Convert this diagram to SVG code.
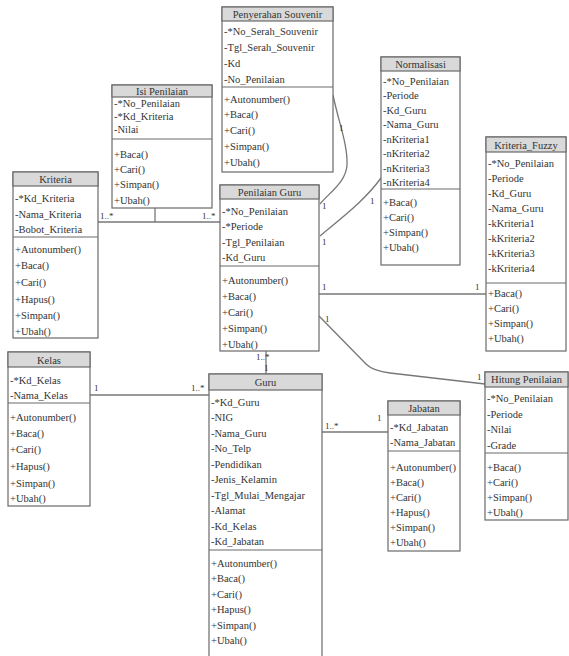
<svg xmlns="http://www.w3.org/2000/svg" width="569" height="656" viewBox="0 0 569 656">
<style>
.bg{fill:#fff}
.box{fill:#fff;stroke:#6a6a6a;stroke-width:1.2}
.hdr{fill:#d9d9d9;stroke:#6a6a6a;stroke-width:1.2}
.div{stroke:#6a6a6a;stroke-width:1.2}
.t{font-family:"Liberation Serif",serif;font-size:10.5px;fill:#333}
.h{text-anchor:middle}
.conn{fill:none;stroke:#777;stroke-width:1.3}
.lb{font-family:"Liberation Serif",serif;font-size:9px;fill:#333}
</style>
<rect class="bg" x="0" y="0" width="569" height="656"/>

<g id="connectors">
<path class="conn" d="M98,222 H220"/>
<path class="conn" d="M155,208 V222"/>
<path class="conn" d="M333,95 C338,120 348,145 347,165 C346,182 330,192 320,204"/>
<path class="conn" d="M381,178 C365,200 345,215 320,236"/>
<path class="conn" d="M319,294 H486"/>
<path class="conn" d="M319,316 L366,364 Q373,371 390,373 L485,384"/>
<path class="conn" d="M266,351 V374"/>
<path class="conn" d="M90,395 H209"/>
<path class="conn" d="M322,432 H388"/>
<text class="lb" x="100" y="219">1..*</text>
<text class="lb" x="202" y="219">1..*</text>
<text class="lb" x="339" y="131">1</text>
<text class="lb" x="322" y="209">1</text>
<text class="lb" x="370" y="204">1</text>
<text class="lb" x="322" y="245">1</text>
<text class="lb" x="322" y="290">1</text>
<text class="lb" x="475" y="290">1</text>
<text class="lb" x="325" y="322">1</text>
<text class="lb" x="477" y="380">1</text>
<text class="lb" x="256" y="360">1..*</text>
<text class="lb" x="264" y="371">1</text>
<text class="lb" x="94" y="391">1</text>
<text class="lb" x="191" y="391">1..*</text>
<text class="lb" x="325" y="429">1..*</text>
<text class="lb" x="377" y="421">1</text>
</g>

<g id="penyerahan-souvenir">
<rect class="box" x="222" y="7" width="111" height="165"/>
<rect class="hdr" x="222" y="7" width="111" height="14"/>
<line class="div" x1="222" y1="87" x2="333" y2="87"/>
<text class="t h" x="277.5" y="18">Penyerahan Souvenir</text>
<text class="t" x="224" y="35">-*No_Serah_Souvenir</text>
<text class="t" x="224" y="51">-Tgl_Serah_Souvenir</text>
<text class="t" x="224" y="67">-Kd</text>
<text class="t" x="224" y="83">-No_Penilaian</text>
<text class="t" x="224" y="103">+Autonumber()</text>
<text class="t" x="224" y="118">+Baca()</text>
<text class="t" x="224" y="134">+Cari()</text>
<text class="t" x="224" y="150">+Simpan()</text>
<text class="t" x="224" y="166">+Ubah()</text>
</g>

<g id="isi-penilaian">
<rect class="box" x="112" y="85" width="100" height="123"/>
<rect class="hdr" x="112" y="85" width="100" height="12"/>
<line class="div" x1="112" y1="139" x2="212" y2="139"/>
<text class="t h" x="162" y="94.5">Isi Penilaian</text>
<text class="t" x="114" y="107">-*No_Penilaian</text>
<text class="t" x="114" y="120">-*Kd_Kriteria</text>
<text class="t" x="114" y="133">-Nilai</text>
<text class="t" x="114" y="158">+Baca()</text>
<text class="t" x="114" y="173">+Cari()</text>
<text class="t" x="114" y="188">+Simpan()</text>
<text class="t" x="114" y="204">+Ubah()</text>
</g>

<g id="kriteria">
<rect class="box" x="13" y="172" width="85" height="166"/>
<rect class="hdr" x="13" y="172" width="85" height="14"/>
<line class="div" x1="13" y1="237" x2="98" y2="237"/>
<text class="t h" x="55.5" y="183">Kriteria</text>
<text class="t" x="15" y="202">-*Kd_Kriteria</text>
<text class="t" x="15" y="218">-Nama_Kriteria</text>
<text class="t" x="15" y="233">-Bobot_Kriteria</text>
<text class="t" x="15" y="253">+Autonumber()</text>
<text class="t" x="15" y="269">+Baca()</text>
<text class="t" x="15" y="286">+Cari()</text>
<text class="t" x="15" y="303">+Hapus()</text>
<text class="t" x="15" y="319">+Simpan()</text>
<text class="t" x="15" y="335">+Ubah()</text>
</g>

<g id="penilaian-guru">
<rect class="box" x="220" y="185" width="99" height="166"/>
<rect class="hdr" x="220" y="185" width="99" height="14"/>
<line class="div" x1="220" y1="266" x2="319" y2="266"/>
<text class="t h" x="269.5" y="196">Penilaian Guru</text>
<text class="t" x="222" y="215">-*No_Penilaian</text>
<text class="t" x="222" y="230">-*Periode</text>
<text class="t" x="222" y="246">-Tgl_Penilaian</text>
<text class="t" x="222" y="261">-Kd_Guru</text>
<text class="t" x="222" y="284">+Autonumber()</text>
<text class="t" x="222" y="300">+Baca()</text>
<text class="t" x="222" y="316">+Cari()</text>
<text class="t" x="222" y="332">+Simpan()</text>
<text class="t" x="222" y="348">+Ubah()</text>
</g>

<g id="normalisasi">
<rect class="box" x="381" y="57" width="79" height="208"/>
<rect class="hdr" x="381" y="57" width="79" height="14"/>
<line class="div" x1="381" y1="189" x2="460" y2="189"/>
<text class="t h" x="420.5" y="68">Normalisasi</text>
<text class="t" x="383" y="84.5">-*No_Penilaian</text>
<text class="t" x="383" y="99">-Periode</text>
<text class="t" x="383" y="113.5">-Kd_Guru</text>
<text class="t" x="383" y="128">-Nama_Guru</text>
<text class="t" x="383" y="142.5">-nKriteria1</text>
<text class="t" x="383" y="157">-nKriteria2</text>
<text class="t" x="383" y="171.5">-nKriteria3</text>
<text class="t" x="383" y="186">-nKriteria4</text>
<text class="t" x="383" y="206">+Baca()</text>
<text class="t" x="383" y="221">+Cari()</text>
<text class="t" x="383" y="236">+Simpan()</text>
<text class="t" x="383" y="251">+Ubah()</text>
</g>

<g id="kriteria-fuzzy">
<rect class="box" x="486" y="137" width="80" height="214"/>
<rect class="hdr" x="486" y="137" width="80" height="15"/>
<line class="div" x1="486" y1="283" x2="566" y2="283"/>
<text class="t h" x="526" y="148.5">Kriteria_Fuzzy</text>
<text class="t" x="488" y="166.5">-*No_Penilaian</text>
<text class="t" x="488" y="181.5">-Periode</text>
<text class="t" x="488" y="196.5">-Kd_Guru</text>
<text class="t" x="488" y="211.5">-Nama_Guru</text>
<text class="t" x="488" y="226.5">-kKriteria1</text>
<text class="t" x="488" y="241.5">-kKriteria2</text>
<text class="t" x="488" y="256.5">-kKriteria3</text>
<text class="t" x="488" y="271.5">-kKriteria4</text>
<text class="t" x="488" y="297">+Baca()</text>
<text class="t" x="488" y="312">+Cari()</text>
<text class="t" x="488" y="327">+Simpan()</text>
<text class="t" x="488" y="342">+Ubah()</text>
</g>

<g id="kelas">
<rect class="box" x="8" y="352" width="82" height="154"/>
<rect class="hdr" x="8" y="352" width="82" height="15"/>
<line class="div" x1="8" y1="403" x2="90" y2="403"/>
<text class="t h" x="49" y="363.5">Kelas</text>
<text class="t" x="10" y="383.5">-*Kd_Kelas</text>
<text class="t" x="10" y="398.5">-Nama_Kelas</text>
<text class="t" x="10" y="420.5">+Autonumber()</text>
<text class="t" x="10" y="436.5">+Baca()</text>
<text class="t" x="10" y="453">+Cari()</text>
<text class="t" x="10" y="470">+Hapus()</text>
<text class="t" x="10" y="486.5">+Simpan()</text>
<text class="t" x="10" y="502">+Ubah()</text>
</g>

<g id="guru">
<rect class="box" x="209" y="374" width="113" height="283"/>
<rect class="hdr" x="209" y="374" width="113" height="16"/>
<line class="div" x1="209" y1="550" x2="322" y2="550"/>
<text class="t h" x="265.5" y="386">Guru</text>
<text class="t" x="211" y="405.5">-*Kd_Guru</text>
<text class="t" x="211" y="421">-NIG</text>
<text class="t" x="211" y="436.5">-Nama_Guru</text>
<text class="t" x="211" y="452">-No_Telp</text>
<text class="t" x="211" y="467.5">-Pendidikan</text>
<text class="t" x="211" y="483">-Jenis_Kelamin</text>
<text class="t" x="211" y="498.5">-Tgl_Mulai_Mengajar</text>
<text class="t" x="211" y="514">-Alamat</text>
<text class="t" x="211" y="529.5">-Kd_Kelas</text>
<text class="t" x="211" y="545">-Kd_Jabatan</text>
<text class="t" x="211" y="566.5">+Autonumber()</text>
<text class="t" x="211" y="582">+Baca()</text>
<text class="t" x="211" y="597.5">+Cari()</text>
<text class="t" x="211" y="613">+Hapus()</text>
<text class="t" x="211" y="628.5">+Simpan()</text>
<text class="t" x="211" y="644">+Ubah()</text>
</g>

<g id="jabatan">
<rect class="box" x="388" y="401" width="72" height="150"/>
<rect class="hdr" x="388" y="401" width="72" height="14"/>
<line class="div" x1="388" y1="451" x2="460" y2="451"/>
<text class="t h" x="424" y="412">Jabatan</text>
<text class="t" x="390" y="430.5">-*Kd_Jabatan</text>
<text class="t" x="390" y="445.5">-Nama_Jabatan</text>
<text class="t" x="390" y="470.5">+Autonumber()</text>
<text class="t" x="390" y="485.5">+Baca()</text>
<text class="t" x="390" y="500.5">+Cari()</text>
<text class="t" x="390" y="515.5">+Hapus()</text>
<text class="t" x="390" y="530.5">+Simpan()</text>
<text class="t" x="390" y="545.5">+Ubah()</text>
</g>

<g id="hitung-penilaian">
<rect class="box" x="485" y="372" width="83" height="148"/>
<rect class="hdr" x="485" y="372" width="83" height="15"/>
<line class="div" x1="485" y1="453" x2="568" y2="453"/>
<text class="t h" x="526.5" y="383">Hitung Penilaian</text>
<text class="t" x="487" y="401.5">-*No_Penilaian</text>
<text class="t" x="487" y="417.5">-Periode</text>
<text class="t" x="487" y="433">-Nilai</text>
<text class="t" x="487" y="448.5">-Grade</text>
<text class="t" x="487" y="470.5">+Baca()</text>
<text class="t" x="487" y="485.5">+Cari()</text>
<text class="t" x="487" y="500.5">+Simpan()</text>
<text class="t" x="487" y="515.5">+Ubah()</text>
</g>
</svg>
